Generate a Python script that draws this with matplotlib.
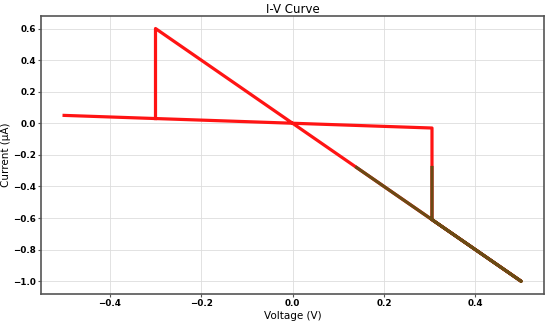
"""
Curva I-V com trecho de baixa resistência destacado
"""

import matplotlib.pyplot as plt

# Varredura de tensão (V) e corrente (uA)
voltage = [-0.5, -0.3, 0.305, 0.305, 0.5, -0.3, -0.3]
current = [0.05, 0.03, -0.03, -0.61, -1.0, 0.6, 0.03]

# Trecho destacado (corrente abaixo de ~-0.28 uA)
voltage_hl = [0.305, 0.305, 0.5, 0.14]
current_hl = [-0.28, -0.61, -1.0, -0.28]

plt.figure(figsize=(5.5, 3.24), dpi=100)
ax = plt.gca()
ax.plot(voltage, current, color='#ff1414', linewidth=2.3)
ax.plot(voltage_hl, current_hl, color='#6b4a14', linewidth=2.3)

ax.set_title('I-V Curve', fontsize=8.5, pad=2)
ax.set_xlabel('Voltage (V)', fontsize=7.5, labelpad=1.5)
ax.set_ylabel('Current (μA)', fontsize=7.5, labelpad=1)
ax.tick_params(labelsize=6.3, length=2.5, pad=1.5, color='#555555')
for lbl in ax.get_xticklabels() + ax.get_yticklabels():
    lbl.set_fontweight('semibold')
for spine in ax.spines.values():
    spine.set_color('#555555')
    spine.set_linewidth(1.2)
ax.grid(True, color='#dddddd', linewidth=0.6)

plt.subplots_adjust(left=0.075, right=0.989, top=0.951, bottom=0.093)
plt.savefig('out.png', dpi=100)
plt.close()
